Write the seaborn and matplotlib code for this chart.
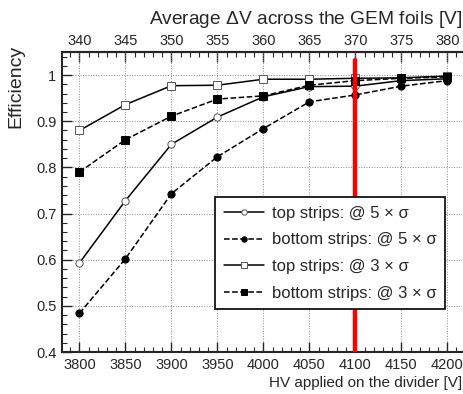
import numpy as np
import matplotlib
matplotlib.use("Agg")
import matplotlib.pyplot as plt
import seaborn as sns

# HV on the divider [V]
hv = [3800, 3850, 3900, 3950, 4000, 4050, 4100, 4150, 4200]

top_5s = [0.593, 0.728, 0.850, 0.909, 0.953, 0.975, 0.976, 0.988, 0.992]
bot_5s = [0.484, 0.602, 0.743, 0.823, 0.884, 0.942, 0.957, 0.976, 0.988]
top_3s = [0.880, 0.936, 0.977, 0.978, 0.991, 0.991, 0.993, 0.994, 0.998]
bot_3s = [0.790, 0.860, 0.911, 0.948, 0.955, 0.978, 0.988, 0.993, 0.996]

labels = ["top strips: @ 5 \u00d7 \u03c3", "bottom strips: @ 5 \u00d7 \u03c3",
          "top strips: @ 3 \u00d7 \u03c3", "bottom strips: @ 3 \u00d7 \u03c3"]
top_ticks = [340, 345, 350, 355, 360, 365, 370, 375, 380]
working_point = 4100

sns.set_theme(style="ticks")
plt.rcParams['font.family'] = ['Liberation Sans', 'DejaVu Sans']
plt.rcParams['mathtext.fontset'] = 'custom'
plt.rcParams['mathtext.rm'] = 'Liberation Sans'

fig = plt.figure(figsize=(4.64, 3.94), dpi=100)
ax = fig.add_axes([62 / 464, 42 / 394, 400 / 464, 300 / 394])

series = [
    (top_5s, 'o', '-', 'white'),
    (bot_5s, 'o', '--', 'black'),
    (top_3s, 's', '-', 'white'),
    (bot_3s, 's', '--', 'black'),
]
for (vals, mk, ls, fc), lab in zip(series, labels):
    sns.lineplot(x=hv, y=vals, ax=ax, color='black', lw=1.1, linestyle=ls,
                 marker=mk, markersize=5.5 if mk == 's' else 5.2, markerfacecolor=fc,
                 markeredgecolor='black' if fc == 'black' else '#555555',
                 markeredgewidth=0.7, label=lab)

ax.plot([working_point, working_point], [0.4, 1.033], color='red', lw=3.2, zorder=5)

ax.set_xlim(3781, 4216)
ax.set_ylim(0.4, 1.05)
ax.set_xticks(hv)
ax.set_yticks([0.4, 0.5, 0.6, 0.7, 0.8, 0.9, 1.0])
ax.set_yticklabels(['0.4', '0.5', '0.6', '0.7', '0.8', '0.9', '1'])
ax.minorticks_on()
ax.xaxis.set_minor_locator(matplotlib.ticker.MultipleLocator(10))
ax.yaxis.set_minor_locator(matplotlib.ticker.MultipleLocator(0.02))
ax.tick_params(which='major', direction='in', length=7, width=1, labelsize=10.5, pad=4)
ax.tick_params(which='minor', direction='in', length=3.5, width=0.8)
ax.tick_params(axis='x', which='both', top=False)
ax.grid(True, which='major', color='#888888', linestyle=':', linewidth=0.7)

for side in ['left', 'bottom', 'top']:
    ax.spines[side].set_linewidth(1.5)
ax.spines['right'].set_visible(False)

ax.set_xlabel("HV applied on the divider [V]", fontsize=11, loc='right', labelpad=3)
ax.set_ylabel("Efficiency", fontsize=14)
ax.yaxis.set_label_coords(-0.093, 0.885)

sec = ax.secondary_xaxis('top', functions=(lambda x: 340 + (x - 3800) / 10.0,
                                           lambda d: 3800 + (d - 340) * 10.0))
sec.set_xticks(top_ticks)
sec.xaxis.set_minor_locator(matplotlib.ticker.MultipleLocator(1))
sec.tick_params(which='major', direction='in', length=7, width=1, labelsize=10.5, pad=3)
sec.tick_params(which='minor', direction='in', length=3.5, width=0.8)
sec.set_xlabel("Average $\\Delta$V across the GEM foils [V]", fontsize=13.8, loc='right', labelpad=7)
sec.spines['top'].set_linewidth(1.5)

leg = ax.legend(loc='lower left', bbox_to_anchor=(0.383, 0.143), fontsize=12,
                frameon=True, fancybox=False, edgecolor='black', framealpha=1,
                handlelength=2.4, handletextpad=0.5, borderpad=0.5, labelspacing=0.7,
                borderaxespad=0, markerscale=0.75)
leg.get_frame().set_linewidth(1.2)

fig.savefig("out.png", dpi=100)
